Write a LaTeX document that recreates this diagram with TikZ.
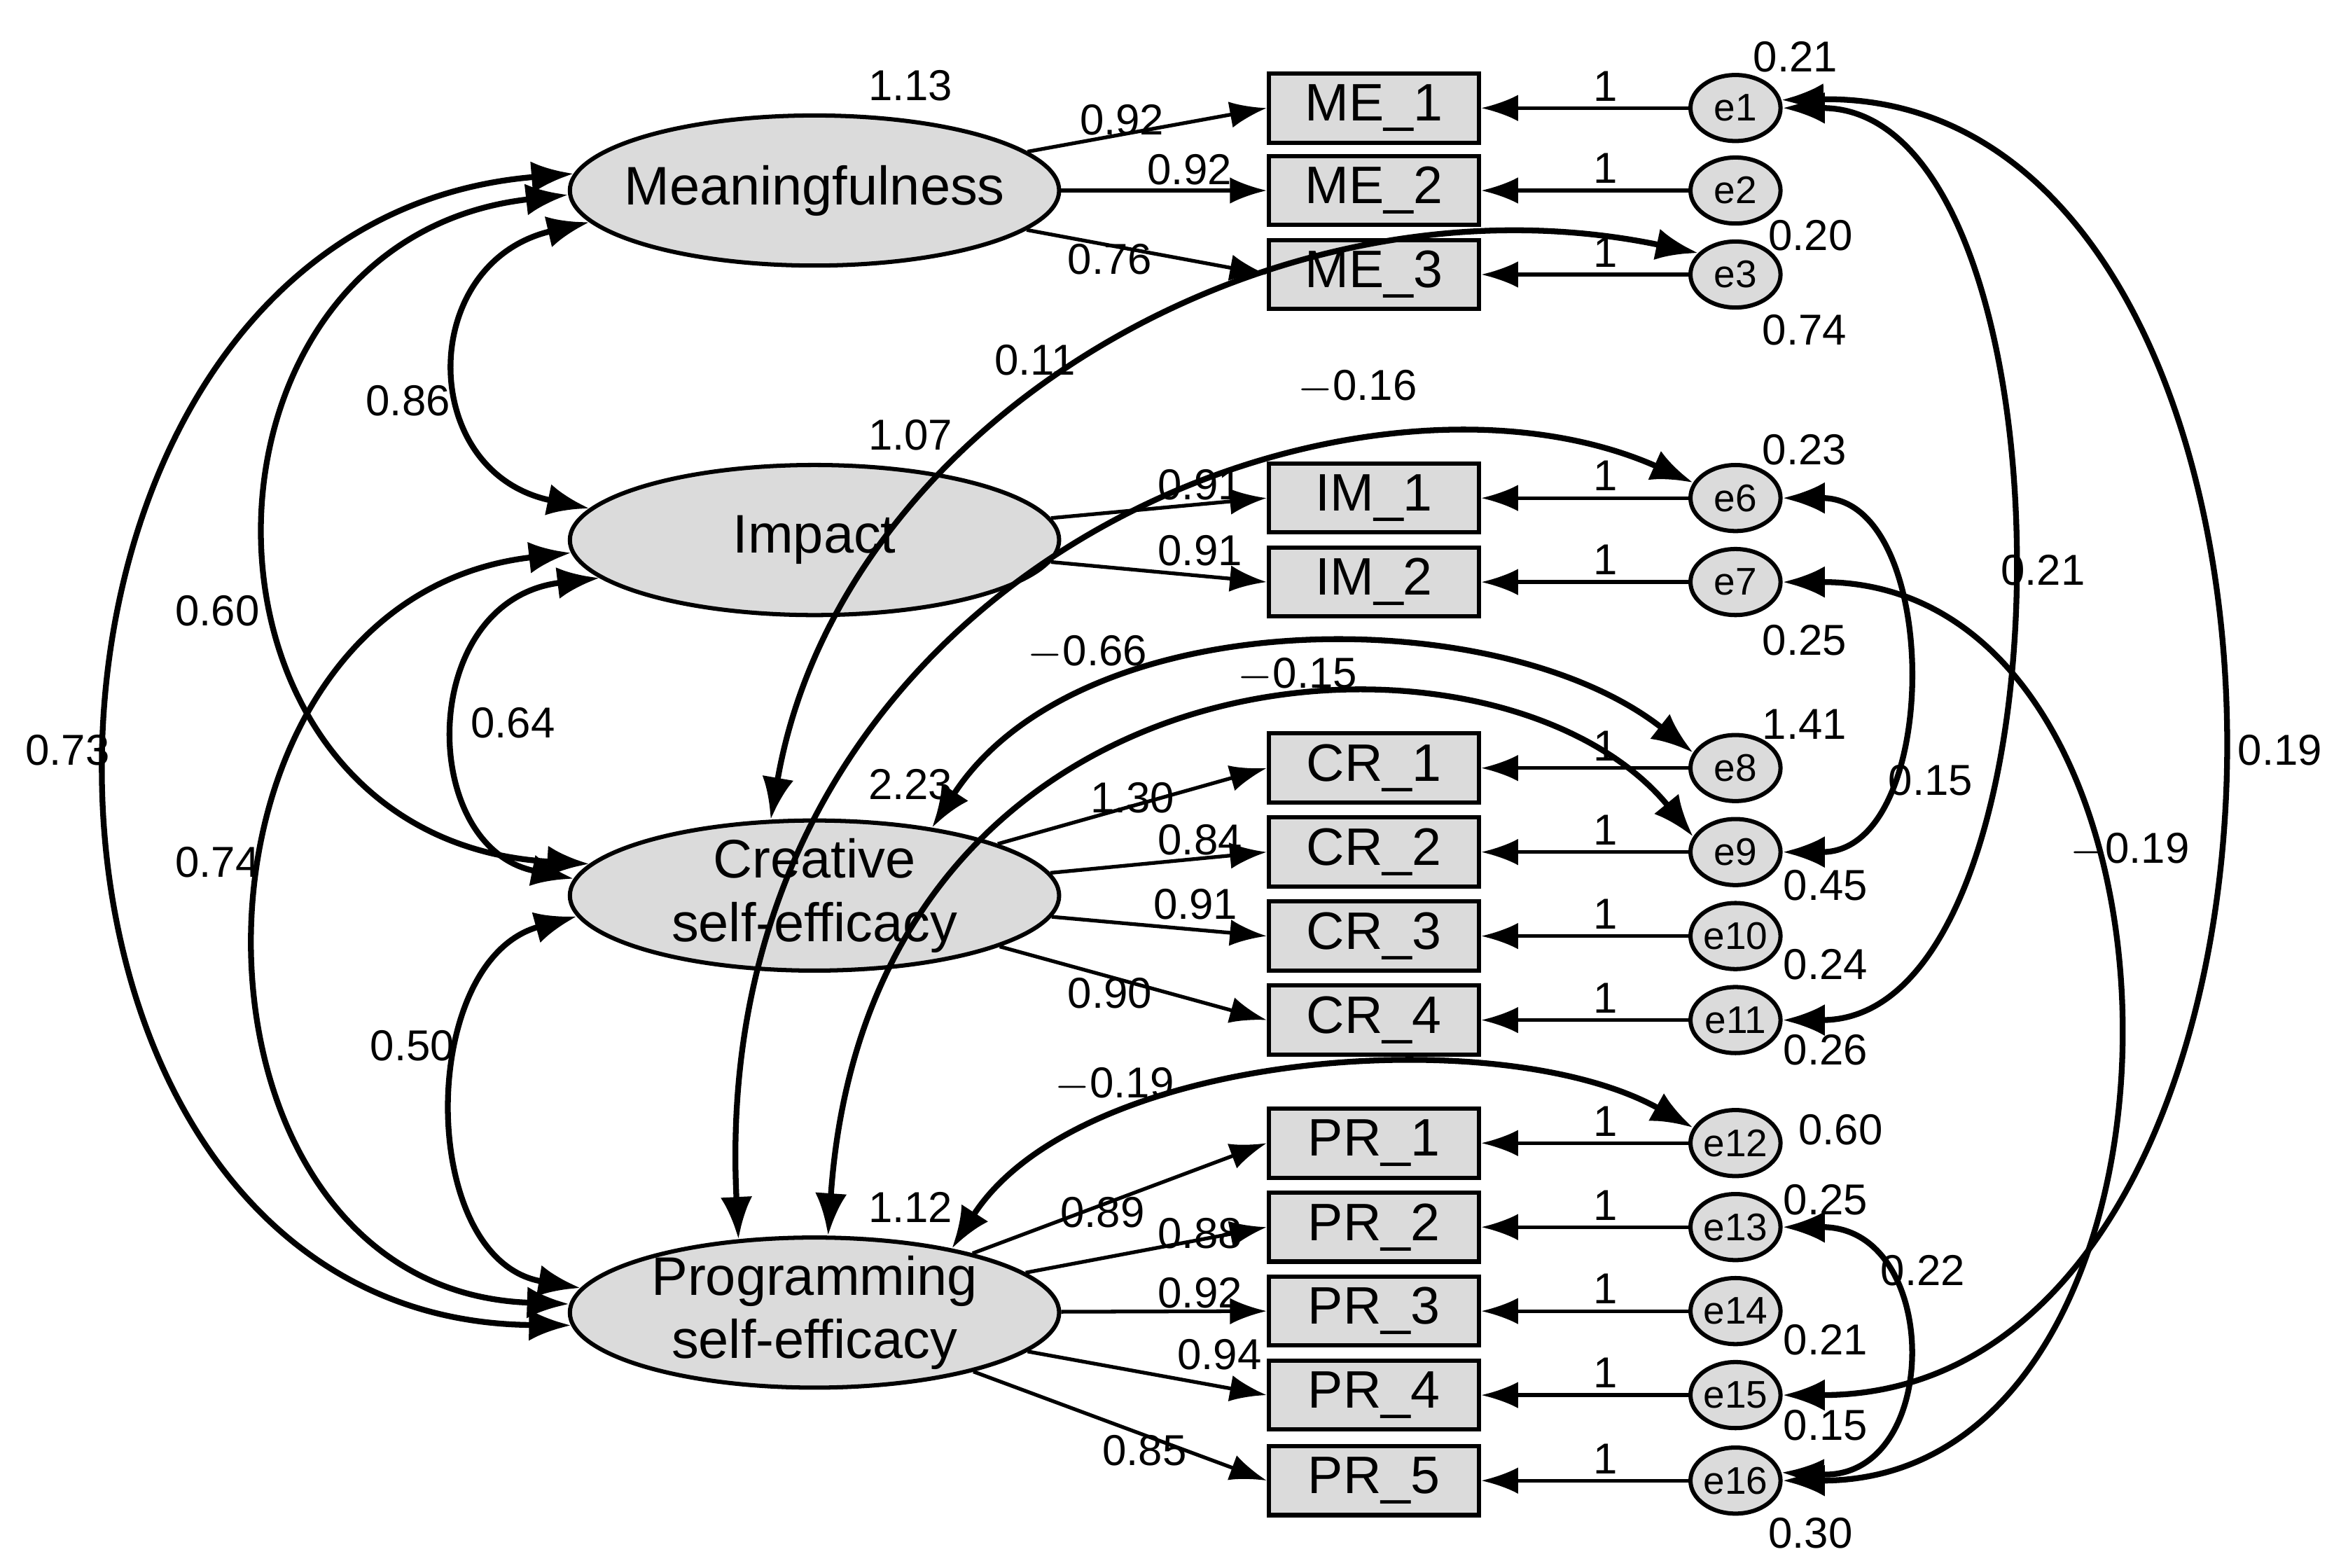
\documentclass[tikz,border=0pt]{standalone}
\usepackage{fontspec}
\setmainfont{Liberation Sans}
\usetikzlibrary{arrows.meta,shapes.geometric}
\begin{document}
\begin{tikzpicture}[x=0.01cm,y=-0.01cm,
 lat/.style={ellipse,draw,fill=black!14,line width=0.8pt,minimum width=3.26cm,minimum height=1.0cm,inner xsep=-0.16cm,inner ysep=-0.1cm,font=\fontsize{10.3}{12}\selectfont,align=center},
 obs/.style={rectangle,draw,fill=black!14,line width=0.8pt,minimum width=1.4cm,minimum height=0.46cm,inner sep=0pt,font=\fontsize{10}{12}\selectfont},
 err/.style={ellipse,draw,fill=black!14,line width=0.8pt,minimum width=0.6cm,minimum height=0.44cm,inner sep=-1pt,font=\fontsize{7.3}{9}\selectfont},
 lab/.style={font=\fontsize{8.2}{10}\selectfont,inner sep=1pt},
 ar/.style={-{Latex[length=7pt,width=5pt]},line width=0.7pt},
 cv/.style={{Latex[length=8pt,width=6pt]}-{Latex[length=8pt,width=6pt]},line width=1.1pt}]
\useasboundingbox (0,0) rectangle (1556,1045);
% latent
\node[lat] (me) at (543,127) {Meaningfulness};
\node[lat] (im) at (543,360) {Impact};
\node[lat] (cr) at (543,597) {Creative\\self-efficacy};
\node[lat] (pr) at (543,875) {Programming\\self-efficacy};
% observed and errors
\foreach \n/\t/\y/\e in {me1/ME\_1/72/e1, me2/ME\_2/127/e2, me3/ME\_3/183/e3, im1/IM\_1/332/e6, im2/IM\_2/388/e7, cr1/CR\_1/512/e8, cr2/CR\_2/568/e9, cr3/CR\_3/624/e10, cr4/CR\_4/680/e11, pr1/PR\_1/762/e12, pr2/PR\_2/818/e13, pr3/PR\_3/874/e14, pr4/PR\_4/930/e15, pr5/PR\_5/987/e16}{
 \node[obs] (\n) at (916,\y) {\t};
 \node[err] (\e) at (1157,\y) {\e};
 \draw[ar] (\e) -- node[lab,above,pos=0.4]{1} (\n);
}
% loadings
\draw[ar] (me) -- (me1.west); \draw[ar] (me) -- (me2.west); \draw[ar] (me) -- (me3.west);
\draw[ar] (im) -- (im1.west); \draw[ar] (im) -- (im2.west);
\foreach \o in {cr1,cr2,cr3,cr4} \draw[ar] (cr) -- (\o.west);
\foreach \o in {pr1,pr2,pr3,pr4,pr5} \draw[ar] (pr) -- (\o.west);
\foreach \t/\x/\y in {0.92/748/80, 0.92/793/113, 0.76/740/173, 0.91/800/323, 0.91/800/367, 1.30/755/532, 0.84/800/560, 0.91/797/603, 0.90/740/662, 0.89/735/808, 0.88/800/822, 0.92/800/862, 0.94/813/903, 0.85/763/967}
 \node[lab] at (\x,\y) {\t};
% variances
\foreach \t/\x/\y in {1.13/607/57, 1.07/607/290, 2.23/607/523, 1.12/607/805, 0.21/1197/38, 0.20/1207/157, 0.74/1203/220, 0.23/1203/300, 0.25/1203/427, 1.41/1203/483, 0.45/1217/590, 0.24/1217/643, 0.26/1217/700, 0.60/1227/753, 0.25/1217/800, 0.21/1217/893, 0.15/1217/950, 0.30/1207/1022}
 \node[lab] at (\x,\y) {\t};
% latent covariances
\draw[cv] (me.188) .. controls (278,175) and (278,315) .. (im.172);
\draw[cv] (me.181) .. controls (112,160) and (112,560) .. (cr.172);
\draw[cv] (me.176) .. controls (-28,150) and (-28,880) .. (pr.183);
\draw[cv] (im.190) .. controls (278,400) and (278,565) .. (cr.176);
\draw[cv] (im.183) .. controls (105,400) and (105,860) .. (pr.178);
\draw[cv] (cr.185) .. controls (278,640) and (278,840) .. (pr.174);
\foreach \t/\x/\y in {0.86/272/267, 0.60/145/407, 0.73/45/500, 0.64/342/482, 0.74/145/575, 0.50/275/697}
 \node[lab] at (\x,\y) {\t};
% error covariances (middle)
\draw[cv] (e3.150) .. controls (850,110) and (560,280) .. (cr.120);
\draw[cv] (e6.160) .. controls (900,220) and (470,380) .. (pr.136);
\draw[cv] (e8.160) .. controls (1000,400) and (720,400) .. (cr.30);
\draw[cv] (e9.160) .. controls (1000,400) and (580,420) .. (pr.80);
\draw[cv] (e12.160) .. controls (1000,680) and (720,700) .. (pr.25);
\foreach \t/\x/\y in {0.11/690/240, {$-$0.16}/905/258, {$-$0.66}/725/435, {$-$0.15}/865/450, {$-$0.19}/743/723}
 \node[lab] at (\x,\y) {\t};
% error covariances (right)
\draw[cv] (e1.east) .. controls (1388,72) and (1388,680) .. (e11.east);
\draw[cv] (e1.10) .. controls (1575,60) and (1575,930) .. (e15.east);
\draw[cv] (e6.east) .. controls (1295,332) and (1295,568) .. (e9.east);
\draw[cv] (e7.east) .. controls (1482,388) and (1482,987) .. (e16.east);
\draw[cv] (e13.east) .. controls (1295,818) and (1295,987) .. (e16.10);
\foreach \t/\x/\y in {0.21/1362/380, 0.19/1520/500, 0.15/1287/520, {$-$0.19}/1420/567, 0.22/1282/847}
 \node[lab] at (\x,\y) {\t};
\end{tikzpicture}
\end{document}
